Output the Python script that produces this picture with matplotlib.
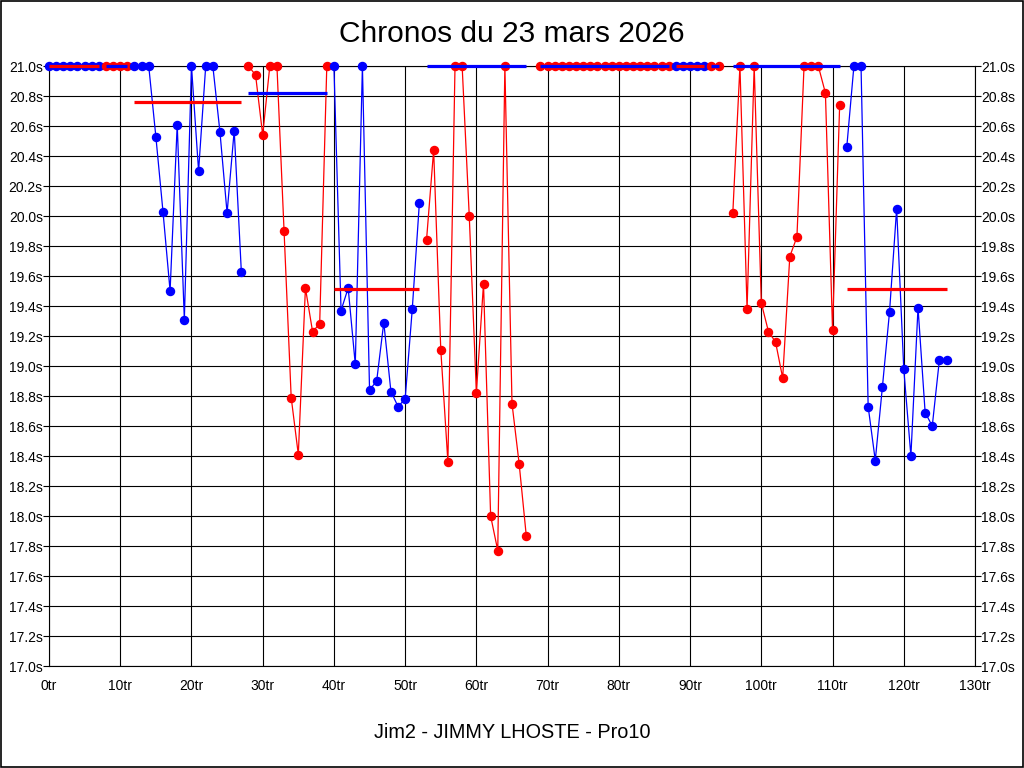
import matplotlib
matplotlib.use('Agg')
import matplotlib.pyplot as plt
from matplotlib.patches import Rectangle

plt.rcParams['font.family'] = ['Liberation Sans', 'DejaVu Sans']

# lap times per stint (values above 21.0s are shown clipped at 21.0)
stint_start = [0, 8, 12, 28, 40, 53, 69, 88, 93, 96, 112]
stint_colors = ['blue', 'red', 'blue', 'red', 'blue', 'red', 'red', 'blue', 'red', 'red', 'blue']
avg_colors = ['red', 'blue', 'red', 'blue', 'red', 'blue', 'blue', 'red', 'blue', 'blue', 'red']
stint_avg = [21.0, 21.0, 20.76, 20.82, 19.51, 21.0, 21.0, 21.0, 21.0, 21.0, 19.51]

times_0 = [21.0, 21.0, 21.0, 21.0, 21.0, 21.0, 21.0, 21.0]
times_1 = [21.0, 21.0, 21.0, 21.0]
times_2 = [21.0, 21.0, 21.0, 20.53, 20.03, 19.50, 20.61, 19.31, 21.0, 20.30, 21.0, 21.0,
           20.56, 20.02, 20.57, 19.63]
times_3 = [21.0, 20.94, 20.54, 21.0, 21.0, 19.90, 18.79, 18.41, 19.52, 19.23, 19.28, 21.0]
times_4 = [21.0, 19.37, 19.52, 19.01, 21.0, 18.84, 18.90, 19.29, 18.83, 18.73, 18.78, 19.38, 20.09]
times_5 = [19.84, 20.44, 19.11, 18.36, 21.0, 21.0, 20.00, 18.82, 19.55, 18.00, 17.77, 21.0,
           18.75, 18.35, 17.87]
times_6 = [21.0, 21.0, 21.0, 21.0, 21.0, 21.0, 21.0, 21.0, 21.0, 21.0, 21.0, 21.0, 21.0,
           21.0, 21.0, 21.0, 21.0, 21.0, 21.0]
times_7 = [21.0, 21.0, 21.0, 21.0, 21.0]
times_8 = [21.0, 21.0]
times_9 = [20.02, 21.0, 19.38, 21.0, 19.42, 19.23, 19.16, 18.92, 19.73, 19.86, 21.0, 21.0,
           21.0, 20.82, 19.24, 20.74]
times_10 = [20.46, 21.0, 21.0, 18.73, 18.37, 18.86, 19.36, 20.05, 18.98, 18.40, 19.39, 18.69,
            18.60, 19.04, 19.04]

stints = [times_0, times_1, times_2, times_3, times_4, times_5, times_6, times_7,
          times_8, times_9, times_10]

y_ticks = [17.0 + 0.2 * i for i in range(21)]
x_ticks = list(range(0, 131, 10))

fig = plt.figure(figsize=(10.24, 7.68), dpi=100)
ax = fig.add_axes([49 / 1024, 102 / 768, 926 / 1024, 600 / 768])

for start, times, col in zip(stint_start, stints, stint_colors):
    laps = list(range(start, start + len(times)))
    ax.plot(laps, times, '-', color=col, lw=0.9, zorder=3)
for start, times, col in zip(stint_start, stints, stint_colors):
    laps = list(range(start, start + len(times)))
    ax.plot(laps, times, 'o', color=col, ms=5.8, mec=col, zorder=4, clip_on=False)
for start, times, avg, col in zip(stint_start, stints, stint_avg, avg_colors):
    ax.plot([start, start + len(times) - 1], [avg, avg], '-', color=col, lw=2.3,
            solid_capstyle='butt', zorder=5, clip_on=False)

ax.set_xlim(0, 130)
ax.set_ylim(17.0, 21.0)
ax.set_xticks(x_ticks)
ax.set_xticklabels([f'{v}tr' for v in x_ticks])
ax.set_yticks(y_ticks)
ax.set_yticklabels([f'{v:.1f}s' for v in y_ticks])
ax.grid(True, color='black', lw=0.8)
ax.set_axisbelow(True)
for sp in ax.spines.values():
    sp.set_color('black')
    sp.set_linewidth(0.8)
ax.tick_params(axis='y', left=True, right=True, labelleft=True, labelright=True,
               length=4, width=0.8, pad=0.5, labelsize=10)
ax.tick_params(axis='x', length=0, pad=9, labelsize=10)

fig.text(0.5, 1 - 34 / 768, 'Chronos du 23 mars 2026', ha='center', va='center', fontsize=21.5)
fig.text(0.5, 1 - 733 / 768, 'Jim2 - JIMMY LHOSTE - Pro10', ha='center', va='center', fontsize=14.3)
fig.patches.append(Rectangle((0.0005, 0.0007), 0.999, 0.9986, transform=fig.transFigure,
                             fill=False, edgecolor='black', lw=1.2))

fig.savefig('out.png', dpi=100)
